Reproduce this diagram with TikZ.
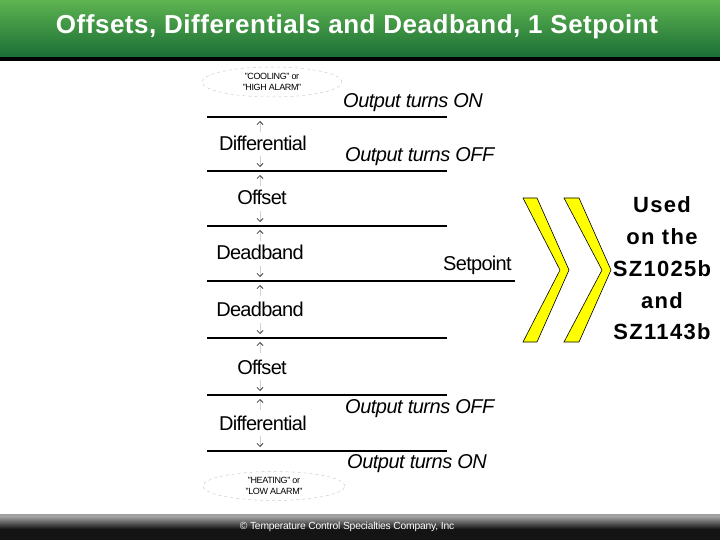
\documentclass[tikz,border=0pt]{standalone}
\usepackage{fontspec}
\setmainfont{Liberation Sans}
\usetikzlibrary{shapes.geometric,arrows.meta}
\definecolor{gtop}{HTML}{5DB450}
\definecolor{gbot}{HTML}{1B6E36}
\definecolor{chev}{HTML}{FFFF00}
\tikzset{
  band/.style={line width=1.4pt},
  bandthick/.style={line width=2pt},
  lbl/.style={inner sep=0pt,font=\fontsize{20}{22}\selectfont\addfontfeatures{LetterSpace=-3.5}},
  outl/.style={inner sep=0pt,anchor=west,font=\fontsize{20}{22}\selectfont\itshape\addfontfeatures{LetterSpace=-2.5}},
  cloud/.style={ellipse,draw=gray!40,dashed,line width=0.5pt,minimum width=140pt,minimum height=30pt,inner sep=0pt,align=center,font=\fontsize{9}{10.5}\selectfont\addfontfeatures{LetterSpace=-4}},
  dim/.style={draw=gray!35,line width=0.5pt,-{Straight Barb[length=3pt,width=6pt,line width=0.8pt,color=black!75]}},
  chevshape/.style={fill=chev,draw=black,line width=0.6pt,line join=miter},
}
\begin{document}
\begin{tikzpicture}[x=1pt,y=-1pt]
\useasboundingbox (0,0) rectangle (720,540);
% header
\shade[top color=gtop,bottom color=gbot] (0,0) rectangle (720,57);
\fill[black] (0,57) rectangle (720,61);
\node[text=white,font=\fontsize{26}{28}\selectfont\bfseries\addfontfeatures{LetterSpace=2}] (title) at (357,27) {Offsets, Differentials and Deadband, 1 Setpoint};
% footer
\fill[gray!75] (0,514) rectangle (720,516);
\shade[top color=gray!70,bottom color=black!92] (0,516) rectangle (720,529);
\fill[black!92] (0,529) rectangle (720,540);
\node[text=white,font=\fontsize{10.3}{12}\selectfont\addfontfeatures{LetterSpace=-2}] (foot) at (347,527) {© Temperature Control Specialties Company, Inc};
% band lines
\foreach \n/\y in {a/117,b/171,c/226,d/281,e/338,f/395,g/451}{
  \coordinate (\n L) at (207,\y);
  \coordinate (\n R) at (447,\y);
}
\coordinate (dR) at (515,281);
\draw[bandthick] (aL) -- (aR);
\draw[band] (bL) -- (bR);
\draw[band] (cL) -- (cR);
\draw[line width=2.4pt] (dL) -- (dR);
\draw[band] (eL) -- (eR);
\draw[band] (fL) -- (fR);
\draw[bandthick] (gL) -- (gR);
% dimension arrows
\foreach \t/\b [count=\i] in {117/171,171/226,226/281,281/338,338/395,395/451}{
  \coordinate (u\i s) at (260,\t+15);
  \coordinate (u\i e) at (260,\t+4);
  \coordinate (d\i s) at (260,\b-15);
  \coordinate (d\i e) at (260,\b-4);
  \draw[dim] (u\i s) -- (u\i e);
  \draw[dim] (d\i s) -- (d\i e);
}
% labels
\node[lbl] (dif1) at (263,143) {Differential};
\node[lbl] (off1) at (262,197) {Offset};
\node[lbl] (dead1) at (260,252) {Deadband};
\node[lbl] (dead2) at (260,309) {Deadband};
\node[lbl] (off2) at (262,367) {Offset};
\node[lbl] (dif2) at (263,423) {Differential};
\node[lbl,anchor=west] (setp) at (443,265) {Setpoint};
\node[outl] (on1) at (343,103) {Output turns ON};
\node[outl] (off1o) at (345,157) {Output turns OFF};
\node[outl] (off2o) at (345,409) {Output turns OFF};
\node[outl] (on2) at (347,464) {Output turns ON};
% ellipses
\node[cloud] (cool) at (272,82) {"COOLING" or\\"HIGH ALARM"};
\node[cloud,minimum width=142pt,minimum height=29pt] (heat) at (274,486) {"HEATING" or\\"LOW ALARM"};
% chevrons
\draw[chevshape] (523,198) -- (537,198) -- (569,270) -- (537,342) -- (523,342) -- (560,270) -- cycle;
\draw[chevshape] (564,198) -- (579,198) -- (611,270) -- (579,342) -- (564,342) -- (602,270) -- cycle;
% note
\node[align=center,font=\fontsize{22}{31.7}\selectfont\bfseries\addfontfeatures{LetterSpace=6}] (note) at (662,268.5) {Used\\on the\\SZ1025b\\and\\SZ1143b};
\end{tikzpicture}
\end{document}
